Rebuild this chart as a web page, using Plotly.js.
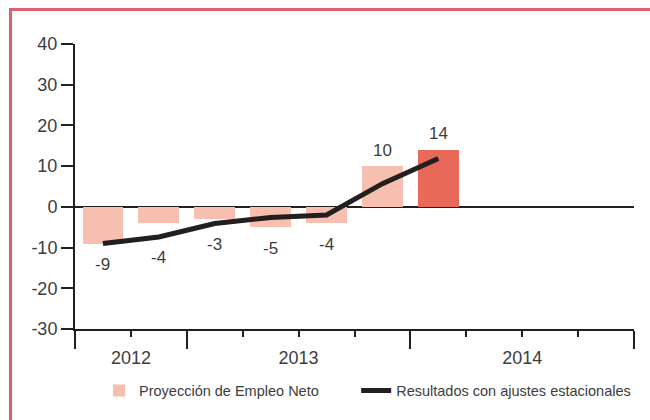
<!DOCTYPE html>
<html>
<head>
<meta charset="utf-8">
<script src="https://cdn.plot.ly/plotly-3.0.1.min.js"></script>
<style>
  html, body { margin: 0; padding: 0; background: #ffffff; }
  #wrap { position: relative; width: 650px; height: 420px; overflow: hidden; }
  #chart { position: absolute; left: 0; top: 0; width: 650px; height: 420px; }
  #frame { position: absolute; left: 9px; top: 8px; width: 660px; height: 430px;
           border-top: 3px solid #de5f6e; border-left: 3px solid #de5f6e;
           pointer-events: none; box-sizing: border-box; }
</style>
</head>
<body>
<div id="wrap">
  <div id="chart"></div>
  <div id="frame"></div>
</div>
<script>
// ---- data ----
const quarters = ['T3 2012', 'T4 2012', 'T1 2013', 'T2 2013', 'T3 2013', 'T4 2013', 'T1 2014'];
const proyeccion = [-9, -4, -3, -5, -4, 10, 14];
const resultados = [-9, -7.4, -4.1, -2.6, -2.0, 5.7, 11.9];
const years = ['2012', '2013', '2014'];
const quartersPerYear = [2, 4, 4];
const yTicks = [-30, -20, -10, 0, 10, 20, 30, 40];

// ---- derived ----
const xPos = quarters.map((q, i) => i + 0.5);
const boundaries = [0];
quartersPerYear.forEach(n => boundaries.push(boundaries[boundaries.length - 1] + n));
const yearCenters = quartersPerYear.map((n, i) => boundaries[i] + n / 2);
const totalQuarters = boundaries[boundaries.length - 1];

const light = '#f6bfb0';
const dark = '#e8685a';
const ink = '#231f20';
const txt = '#3d3d3d';
const barColors = proyeccion.map((v, i) => i === proyeccion.length - 1 ? dark : light);

const font = 'Liberation Sans, Arial, sans-serif';

const annotations = proyeccion.map((v, i) => {
  const pos = v >= 0;
  const y = pos ? Math.max(v, resultados[i]) : Math.min(v, resultados[i]);
  return {
    x: xPos[i], y: y, xref: 'x', yref: 'y',
    text: String(v), showarrow: false,
    yshift: pos ? 16 : -21, yanchor: 'middle',
    font: {family: font, size: 17, color: txt}
  };
});

const traces = [
  {
    type: 'bar', x: xPos, y: proyeccion, width: 0.73,
    name: 'Proyección de Empleo Neto',
    marker: {color: barColors, line: {width: 0}},
    legend: 'legend',
    hoverinfo: 'skip'
  },
  {
    type: 'scatter', mode: 'lines', x: xPos, y: resultados,
    name: 'Resultados con ajustes estacionales',
    line: {color: ink, width: 5},
    legend: 'legend2',
    hoverinfo: 'skip'
  },
  {
    type: 'scatter', mode: 'markers', x: yearCenters, y: yearCenters.map(() => 0),
    xaxis: 'x2', yaxis: 'y', showlegend: false, opacity: 0, hoverinfo: 'skip',
    marker: {size: 1}
  }
];

const legendFont = {family: font, size: 14.5, color: txt};

const layout = {
  width: 650, height: 420,
  margin: {l: 75, r: 16, t: 44, b: 91, autoexpand: false},
  paper_bgcolor: '#ffffff', plot_bgcolor: '#ffffff',
  showlegend: true,
  bargap: 0,
  xaxis: {
    range: [0, totalQuarters], fixedrange: true,
    tickmode: 'array', tickvals: boundaries, ticktext: boundaries.map(() => ''),
    ticks: 'outside', ticklen: 18, tickwidth: 2, tickcolor: ink,
    minor: {tickmode: 'linear', tick0: 0, dtick: 1, ticks: 'outside', ticklen: 6, tickwidth: 2, tickcolor: ink, showgrid: false},
    showline: true, linecolor: ink, linewidth: 2,
    showgrid: false, zeroline: false
  },
  xaxis2: {
    overlaying: 'x', anchor: 'y', side: 'bottom',
    range: [0, totalQuarters], fixedrange: true,
    tickmode: 'array', tickvals: yearCenters, ticktext: years,
    ticks: '', ticklabelstandoff: 16,
    tickfont: {family: font, size: 18, color: txt},
    showline: false, showgrid: false, zeroline: false
  },
  yaxis: {
    range: [-30, 40], fixedrange: true,
    tickmode: 'array', tickvals: yTicks, ticktext: yTicks.map(v => String(v)),
    ticks: 'outside', ticklen: 12, tickwidth: 2, tickcolor: ink,
    tickfont: {family: font, size: 18, color: txt},
    showline: true, linecolor: ink, linewidth: 2,
    showgrid: false,
    zeroline: true, zerolinecolor: ink, zerolinewidth: 2
  },
  legend: {
    orientation: 'h', x: 0.043, xanchor: 'left', y: -0.16, yanchor: 'top',
    font: legendFont, bgcolor: 'rgba(0,0,0,0)', borderwidth: 0
  },
  legend2: {
    orientation: 'h', x: 0.503, xanchor: 'left', y: -0.16, yanchor: 'top',
    font: legendFont, bgcolor: 'rgba(0,0,0,0)', borderwidth: 0
  },
  annotations: annotations
};

Plotly.newPlot('chart', traces, layout, {displayModeBar: false, staticPlot: true});
</script>
</body>
</html>
